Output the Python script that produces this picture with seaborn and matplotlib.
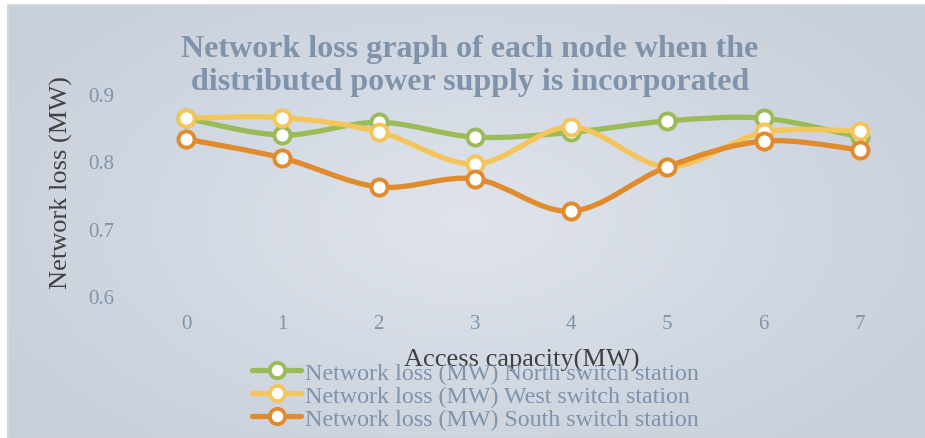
import numpy as np
import matplotlib.pyplot as plt
import seaborn as sns
from matplotlib.path import Path
from matplotlib.patches import PathPatch, Rectangle
from matplotlib.lines import Line2D

capacity = [0, 1, 2, 3, 4, 5, 6, 7]
north = [0.864, 0.839, 0.858, 0.836, 0.843, 0.860, 0.864, 0.836]
west = [0.864, 0.865, 0.844, 0.796, 0.851, 0.792, 0.843, 0.845]
south = [0.833, 0.805, 0.762, 0.774, 0.726, 0.792, 0.830, 0.817]
labels = ["Network loss (MW) North switch station",
          "Network loss (MW) West switch station",
          "Network loss (MW) South switch station"]
colors = ["#9bbb59", "#f4c55a", "#e08b2d"]

sns.set_style("white")
plt.rcParams['font.family'] = ['Liberation Serif', 'DejaVu Serif']

fig = plt.figure(figsize=(9.25, 4.39), dpi=100)
fig.patch.set_facecolor("white")

# background with a soft radial gradient
bg = fig.add_axes([0, 0, 1, 1])
bg.set_axis_off()
yy, xx = np.mgrid[0:1:200j, 0:1:400j]
r = np.sqrt(((xx - 0.5) / 0.6) ** 2 + ((yy - 0.5) / 0.7) ** 2)
grad = np.clip(r, 0, 1)
c_in = np.array([0.875, 0.894, 0.925])
c_out = np.array([0.784, 0.812, 0.855])
img = c_in + (c_out - c_in) * grad[..., None]
bg.imshow(img, extent=[9 / 925, 1, 0, 1 - 7 / 439], aspect='auto', zorder=0)
bg.set_xlim(0, 1)
bg.set_ylim(0, 1)
bg.add_patch(Rectangle((8 / 925, 0), 1, 1 - 6 / 439, fill=False,
                       edgecolor="#d0d0d0", lw=1.2))

ax = fig.add_axes([138 / 925, 1 - 297 / 439, 770 / 925, 202 / 439])
ax.patch.set_alpha(0)


def smooth_path(x, y, t=1 / 6):
    # Bezier segments through the data points (Excel-like smoothing)
    verts = [(x[0], y[0])]
    codes = [Path.MOVETO]
    n = len(x)
    for i in range(n - 1):
        x0, y0 = (x[i - 1], y[i - 1]) if i > 0 else (x[i], y[i])
        x3, y3 = (x[i + 2], y[i + 2]) if i + 2 < n else (x[i + 1], y[i + 1])
        c1 = (x[i] + (x[i + 1] - x0) * t, y[i] + (y[i + 1] - y0) * t)
        c2 = (x[i + 1] - (x3 - x[i]) * t, y[i + 1] - (y3 - y[i]) * t)
        verts += [c1, c2, (x[i + 1], y[i + 1])]
        codes += [Path.CURVE4] * 3
    return Path(verts, codes)


handles = []
for vals, col, lab in zip([north, west, south], colors, labels):
    ax.add_patch(PathPatch(smooth_path(capacity, vals), fill=False,
                           edgecolor=col, lw=3.8, capstyle='round',
                           clip_on=False, zorder=2))
    sns.scatterplot(x=capacity, y=vals, ax=ax, marker='o', s=135,
                    facecolor='white', edgecolor=col, linewidth=2.8,
                    zorder=3, clip_on=False, legend=False)
    handles.append(Line2D([], [], color=col, lw=3.8, marker='o',
                          markersize=11, markerfacecolor='white',
                          markeredgecolor=col, markeredgewidth=2.8))

ax.set_xlim(-0.5, 7.5)
ax.set_ylim(0.6, 0.9)
ax.set_xticks(capacity)
ax.set_yticks([0.6, 0.7, 0.8, 0.9])
ax.set_yticklabels(["0.6", "0.7", "0.8", "0.9"])
ax.tick_params(axis='both', length=0, labelsize=15, labelcolor="#7f93ab")
ax.tick_params(axis='x', pad=13)
ax.tick_params(axis='y', pad=17)
for s in ax.spines.values():
    s.set_visible(False)
ax.grid(False)

ax.set_xlabel("Access capacity(MW)", fontsize=19, color="#404040")
ax.set_ylabel("Network loss (MW)", fontsize=19, color="#404040")
ax.xaxis.set_label_coords((522 - 138) / 770, -(349 - 297) / 202)
ax.yaxis.set_label_coords((73 - 138) / 770, (297 - 183) / 202)

fig.text(0.508, 1 - 66 / 439, "Network loss graph of each node when the\n"
         "distributed power supply is incorporated",
         ha='center', va='center', fontsize=23, fontweight='bold',
         color="#7f93ab", linespacing=1.2)

fig.legend(handles=handles, labels=labels, loc='upper left',
           bbox_to_anchor=(240 / 925, 1 - 351 / 439), frameon=False,
           fontsize=17.3, labelcolor="#7f93ab", handlelength=2.05,
           handletextpad=0.15, labelspacing=0.05, borderpad=0)

fig.savefig("out.png", dpi=100)
